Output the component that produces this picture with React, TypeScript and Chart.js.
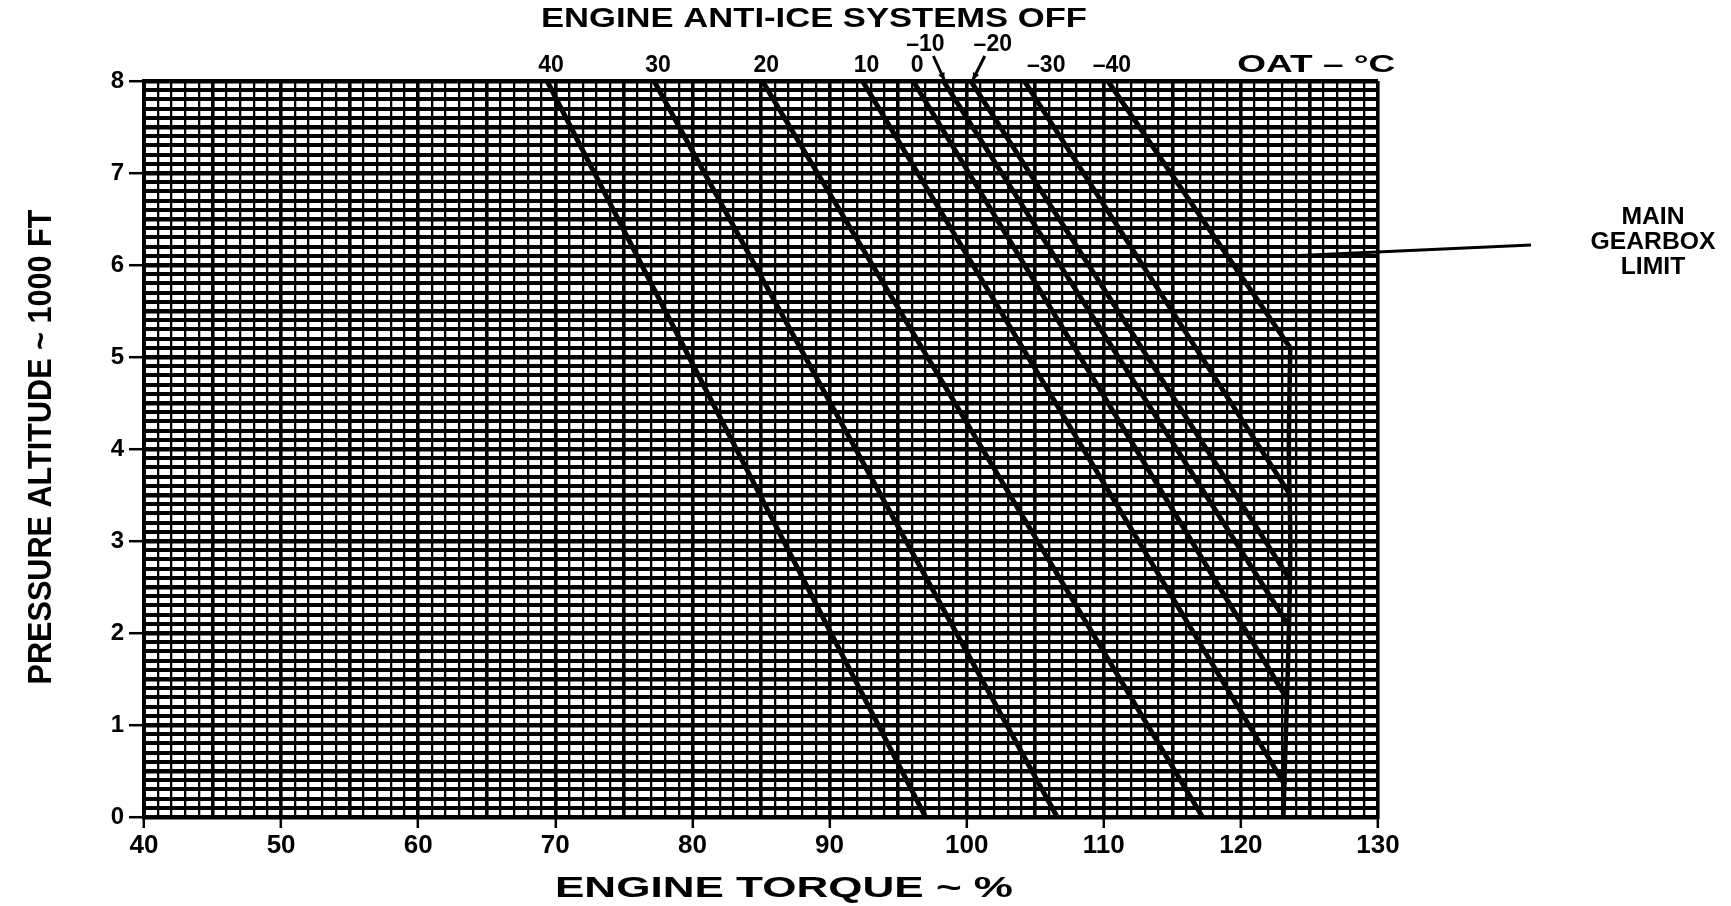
import React, { useEffect, useRef } from 'react';
import { Chart, registerables } from 'chart.js';

Chart.register(...registerables);

// ---- Data (engine torque %, pressure altitude 1000 ft) ----
const oatNames = ['40', '30', '20', '10', '0', '-10', '-20', '-30', '-40'];

const torque40 = [69.4, 97.0];
const alt40 = [8, 0];
const torque30 = [77.2, 106.6];
const alt30 = [8, 0];
const torque20 = [85.1, 117.2];
const alt20 = [8, 0];
const torque10 = [92.4, 123.2];
const alt10 = [8, 0.35];
const torque0 = [96.1, 123.3];
const alt0 = [8, 1.3];
const torqueM10 = [98.3, 123.4];
const altM10 = [8, 2.1];
const torqueM20 = [100.3, 123.5];
const altM20 = [8, 2.6];
const torqueM30 = [104.2, 123.6];
const altM30 = [8, 3.5];
const torqueM40 = [110.3, 123.6];
const altM40 = [8, 5.1];

const gearboxTorque = [123.1, 123.3, 123.5, 123.6, 123.5, 123.6];
const gearboxAlt = [0, 1, 2, 3, 4, 5.1];

const xTickLabels = [40, 50, 60, 70, 80, 90, 100, 110, 120, 130];
const yTickLabels = [0, 1, 2, 3, 4, 5, 6, 7, 8];

const seriesTorque = [torque40, torque30, torque20, torque10, torque0, torqueM10, torqueM20, torqueM30, torqueM40];
const seriesAlt = [alt40, alt30, alt20, alt10, alt0, altM10, altM20, altM30, altM40];

const FONT = '"Liberation Sans", Arial, Helvetica, sans-serif';

function pts(xs: number[], ys: number[]) {
  return xs.map((x, i) => ({ x, y: ys[i] }));
}

function fitText(ctx: CanvasRenderingContext2D, text: string, cx: number, cy: number, size: number, width: number | null, rot = 0) {
  ctx.save();
  ctx.font = `bold ${size}px ${FONT}`;
  const w = ctx.measureText(text).width;
  ctx.translate(cx, cy);
  ctx.rotate(rot);
  if (width) ctx.scale(width / w, 1);
  ctx.textAlign = 'center';
  ctx.textBaseline = 'middle';
  ctx.fillStyle = '#000';
  ctx.fillText(text, 0, 0);
  ctx.restore();
}

function arrow(ctx: CanvasRenderingContext2D, x1: number, y1: number, x2: number, y2: number, head = 8) {
  ctx.save();
  ctx.strokeStyle = '#000';
  ctx.fillStyle = '#000';
  ctx.lineWidth = 3;
  ctx.beginPath();
  ctx.moveTo(x1, y1);
  ctx.lineTo(x2, y2);
  ctx.stroke();
  const a = Math.atan2(y2 - y1, x2 - x1);
  ctx.beginPath();
  ctx.moveTo(x2, y2);
  ctx.lineTo(x2 - head * Math.cos(a - 0.45), y2 - head * Math.sin(a - 0.45));
  ctx.lineTo(x2 - head * Math.cos(a + 0.45), y2 - head * Math.sin(a + 0.45));
  ctx.closePath();
  ctx.fill();
  ctx.restore();
}

const isInt = (v: number) => Math.abs(v - Math.round(v)) < 1e-6;

const annotPlugin = {
  id: 'annot',
  afterDraw(chart: any) {
    const { ctx, chartArea, scales } = chart;
    const xs = scales.x;
    const ys = scales.y;
    const top = chartArea.top;

    // Title
    fitText(ctx, 'ENGINE ANTI-ICE SYSTEMS OFF', 814, 20, 27, 546);

    // OAT labels over the line tops
    const rowY = top - 15;
    const upperY = top - 36;
    oatNames.forEach((name, i) => {
      const px = xs.getPixelForValue(seriesTorque[i][0]);
      const label = name.replace('-', '\u2013');
      if (name === '-10') {
        fitText(ctx, label, px - 18, upperY, 23, null);
        arrow(ctx, px - 10, upperY + 11, px + 1, top - 1);
      } else if (name === '-20') {
        fitText(ctx, label, px + 22, upperY, 23, null);
        arrow(ctx, px + 14, upperY + 11, px + 2, top - 1);
      } else if (name === '-30') {
        fitText(ctx, label, px + 22, rowY, 23, null);
      } else {
        fitText(ctx, label, px + 4, rowY, 23, null);
      }
    });
    fitText(ctx, 'OAT \u2013 \u00B0C', xs.getPixelForValue(125.5), rowY, 23, 158);

    // Axis titles
    fitText(ctx, 'PRESSURE ALTITUDE ~ 1000 FT', 42, 447, 34, 475, -Math.PI / 2);
    fitText(ctx, 'ENGINE TORQUE ~ %', 784, 889, 29, 458);

    // Main gearbox limit note
    const gx = 1653;
    ctx.save();
    ctx.font = `bold 23px ${FONT}`;
    const gw = ctx.measureText('GEARBOX').width;
    ctx.restore();
    const sc = 125 / gw;
    ['MAIN', 'GEARBOX', 'LIMIT'].forEach((t, i) => {
      ctx.save();
      ctx.font = `bold 23px ${FONT}`;
      const w = ctx.measureText(t).width * sc;
      ctx.restore();
      fitText(ctx, t, gx, 218 + i * 25, 23, w);
    });
    ctx.save();
    ctx.strokeStyle = '#000';
    ctx.lineWidth = 3;
    ctx.beginPath();
    ctx.moveTo(1531, 245);
    ctx.lineTo(xs.getPixelForValue(123.9), ys.getPixelForValue(6.1));
    ctx.stroke();
    ctx.restore();
  },
};

export default function App() {
  const ref = useRef<HTMLCanvasElement | null>(null);

  useEffect(() => {
    if (!ref.current) return;
    const datasets: any[] = seriesTorque.map((t, i) => ({
      label: oatNames[i],
      data: pts(t, seriesAlt[i]),
      borderColor: '#000',
      borderWidth: 5,
      pointRadius: 0,
      tension: 0,
      fill: false,
    }));
    datasets.push({
      label: 'MAIN GEARBOX LIMIT',
      data: pts(gearboxTorque, gearboxAlt),
      borderColor: '#000',
      borderWidth: 4.5,
      pointRadius: 0,
      tension: 0.3,
      fill: false,
    });

    const chart = new Chart(ref.current, {
      type: 'line',
      data: { datasets },
      plugins: [annotPlugin],
      options: {
        responsive: false,
        animation: false,
        events: [],
        layout: { padding: { top: 81, right: 353, bottom: 0, left: 0 } },
        plugins: { legend: { display: false }, tooltip: { enabled: false }, title: { display: false } },
        scales: {
          x: {
            type: 'linear',
            min: 40,
            max: 130,
            afterFit: (s: any) => { s.height = 89; },
            ticks: {
              stepSize: 1,
              autoSkip: false,
              maxRotation: 0,
              padding: 2,
              color: '#000',
              font: { family: FONT, size: 26, weight: 'bold' },
              callback: (v: any) => (xTickLabels.includes(Number(v)) ? String(v) : ''),
            },
            grid: {
              color: '#000',
              lineWidth: (c: any) => (c.tick && c.tick.value % 5 === 0 ? 3.6 : 2.3),
              tickLength: 11,
              tickWidth: 2.5,
              tickColor: (c: any) => (c.tick && xTickLabels.includes(c.tick.value) ? '#000' : 'rgba(0,0,0,0)'),
            },
            border: { display: true, color: '#000', width: 4 },
          },
          y: {
            type: 'linear',
            min: 0,
            max: 8,
            afterFit: (s: any) => { s.width = 144; },
            ticks: {
              stepSize: 0.1,
              autoSkip: false,
              padding: 5,
              color: '#000',
              font: { family: FONT, size: 24, weight: 'bold' },
              callback: (v: any) => (isInt(Number(v)) && yTickLabels.includes(Math.round(Number(v))) ? String(Math.round(Number(v))) : ''),
            },
            grid: {
              color: '#000',
              lineWidth: (c: any) => (c.tick && isInt(c.tick.value * 2) ? 4.4 : 4.0),
              tickLength: 15,
              tickWidth: 2.5,
              tickColor: (c: any) => (c.tick && isInt(c.tick.value) ? '#000' : 'rgba(0,0,0,0)'),
            },
            border: { display: true, color: '#000', width: 4 },
          },
        },
      },
    });
    return () => chart.destroy();
  }, []);

  return (
    <div style={{ position: 'fixed', left: 0, top: 0, width: '1731px', height: '906px', background: '#fff' }}>
      <canvas ref={ref} width={1731} height={906} style={{ display: 'block' }} />
    </div>
  );
}
